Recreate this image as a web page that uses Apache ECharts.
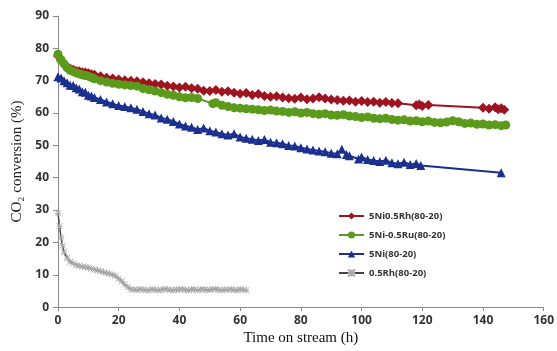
<!DOCTYPE html>
<html>
<head>
<meta charset="utf-8">
<script src="https://cdn.jsdelivr.net/npm/echarts@6/dist/echarts.min.js"></script>
<style>
  html, body { margin: 0; padding: 0; background: #fff; }
  #chart { width: 557px; height: 351px; }
</style>
</head>
<body>
<div id="chart"></div>
<script>
// series names
const seriesNames = ['5Ni0.5Rh(80-20)', '5Ni-0.5Ru(80-20)', '5Ni(80-20)', '0.5Rh(80-20)']

// 5Ni0.5Rh
const rhTime = [0, 1, 2, 3, 4, 5, 6, 7, 8, 9, 10, 11, 12, 14, 16, 18, 20, 22, 24, 26, 28, 30, 32, 34, 36, 38, 40, 42, 44, 46, 48, 50, 52, 54, 56, 58, 60, 62, 64, 66, 68, 70, 72, 74, 76, 78, 80, 82, 84, 86, 88, 90, 92, 94, 96, 98, 100, 102, 104, 106, 108, 110, 112, 118, 119, 120, 122, 140, 142, 144, 145, 146, 147]
const rhConv = [77.6, 76.2, 75.2, 74.3, 73.8, 73.4, 73.0, 72.9, 72.6, 72.5, 72.3, 72.0, 71.8, 71.4, 70.9, 70.7, 70.4, 70.1, 70.0, 69.8, 69.5, 69.2, 69.0, 68.8, 68.4, 68.2, 67.9, 68.1, 67.7, 67.5, 66.9, 66.8, 67.1, 66.6, 66.7, 66.3, 66.0, 66.2, 65.6, 65.9, 65.3, 65.0, 65.2, 64.8, 64.6, 64.4, 64.8, 64.3, 64.5, 64.9, 64.5, 64.2, 64.0, 63.8, 63.9, 63.5, 63.7, 63.4, 63.5, 63.2, 63.4, 63.1, 63.0, 62.4, 62.6, 62.2, 62.5, 61.6, 61.3, 61.8, 61.2, 61.5, 61.0]

// 5Ni-0.5Ru
const ruTime = [0, 1, 2, 3, 4, 5, 6, 7, 8, 9, 10, 11, 12, 14, 16, 18, 20, 22, 24, 26, 28, 30, 32, 34, 36, 38, 40, 42, 44, 46, 51, 52, 54, 56, 58, 60, 62, 64, 66, 68, 70, 72, 74, 76, 78, 80, 82, 84, 86, 88, 90, 92, 94, 96, 98, 100, 102, 104, 106, 108, 110, 112, 114, 116, 118, 120, 122, 124, 126, 128, 130, 132, 134, 136, 138, 140, 142, 144, 146, 147.5]
const ruConv = [78.2, 76.5, 75.2, 74.0, 73.2, 72.8, 72.4, 72.1, 71.8, 71.6, 71.4, 71.0, 70.6, 70.0, 69.6, 69.2, 68.9, 68.7, 68.5, 68.3, 67.6, 67.2, 66.8, 66.3, 65.8, 65.5, 65.0, 64.7, 64.8, 64.5, 62.9, 63.2, 62.4, 62.0, 61.6, 61.5, 61.3, 61.2, 61.0, 60.8, 60.9, 60.6, 60.5, 60.2, 60.4, 60.0, 60.2, 59.8, 59.6, 59.8, 59.4, 59.3, 59.5, 59.1, 58.9, 58.6, 58.8, 58.4, 58.2, 58.4, 58.0, 57.8, 57.9, 57.5, 57.6, 57.3, 57.5, 57.1, 57.0, 57.2, 57.6, 57.3, 56.8, 56.9, 56.5, 56.6, 56.3, 56.4, 56.1, 56.3]

// 5Ni
const niTime = [0, 1, 2, 3, 4, 5, 6, 7, 8, 9, 10, 11, 12, 14, 16, 18, 20, 22, 24, 26, 28, 30, 32, 34, 36, 38, 40, 42, 44, 46, 48, 50, 52, 54, 56, 58, 60, 62, 64, 66, 68, 70, 72, 74, 76, 78, 80, 82, 84, 86, 88, 90, 92, 93.5, 95, 96, 99, 100, 102, 104, 106, 108, 110, 112, 114, 116, 118, 119.5, 146]
const niConv = [71.2, 70.8, 70.0, 69.4, 68.6, 68.5, 67.8, 67.4, 66.6, 66.4, 65.5, 65.3, 64.8, 64.2, 63.4, 62.9, 62.3, 62.0, 61.6, 61.2, 60.5, 59.8, 59.4, 58.5, 58.1, 57.4, 56.6, 56.0, 55.6, 54.9, 55.4, 54.5, 54.1, 53.6, 53.2, 53.6, 52.6, 52.2, 51.9, 51.5, 51.8, 51.0, 50.8, 50.5, 50.0, 49.8, 49.3, 48.9, 48.6, 48.3, 48.0, 47.6, 47.4, 48.8, 47.2, 46.8, 45.8, 46.4, 45.6, 45.3, 45.0, 45.4, 44.6, 44.3, 44.8, 44.1, 44.4, 43.8, 41.5]

// 0.5Rh
const rh05Time = [0, 0.5, 1, 1.5, 2, 3, 4, 5, 6, 7, 8, 9, 10, 11, 12, 13, 14, 15, 16, 17, 18, 19, 20, 21, 22, 23, 24, 25, 26, 27, 28, 29, 30, 31, 32, 33, 34, 35, 36, 37, 38, 39, 40, 41, 42, 43, 44, 45, 46, 47, 48, 49, 50, 51, 52, 53, 54, 55, 56, 57, 58, 59, 60, 61, 62]
const rh05Conv = [29, 25, 21.5, 19, 17, 15.2, 14, 13.5, 13, 12.8, 12.5, 12.4, 12.2, 11.9, 11.6, 11.4, 11.1, 10.8, 10.5, 10.3, 10, 9.6, 8.8, 8.0, 7.0, 6.2, 5.5, 5.4, 5.3, 5.5, 5.4, 5.2, 5.2, 5.5, 5.4, 5.2, 5.3, 5.6, 5.5, 5.3, 5.2, 5.4, 5.4, 5.6, 5.3, 5.2, 5.5, 5.4, 5.2, 5.5, 5.4, 5.3, 5.3, 5.6, 5.5, 5.3, 5.2, 5.4, 5.4, 5.5, 5.3, 5.2, 5.5, 5.4, 5.2]

const xTicks = { min: 0, max: 160, interval: 20 }
const yTicks = { min: 0, max: 90, interval: 10 }

const zip = (t, v) => t.map((x, i) => [x, v[i]])

const chart = echarts.init(document.getElementById('chart'))

const axisLabelStyle = {
  color: '#333',
  fontSize: 12,
  fontWeight: 'bold',
  fontFamily: 'Open Sans'
}

const option = {
  animation: false,
  backgroundColor: '#fff',
  grid: { left: 58, right: 9, top: 16, bottom: 38 },
  legend: {
    orient: 'vertical',
    left: 333,
    top: 206,
    itemGap: 9,
    itemWidth: 25,
    itemHeight: 9,
    textStyle: { fontSize: 9.5, fontWeight: 'bold', color: '#333', fontFamily: 'Open Sans' },
    data: seriesNames
  },
  xAxis: {
    type: 'value',
    min: xTicks.min,
    max: xTicks.max,
    interval: xTicks.interval,
    name: 'Time on stream (h)',
    nameLocation: 'middle',
    nameGap: 21,
    nameTextStyle: { fontFamily: 'Liberation Serif', fontSize: 15, color: '#111' },
    axisLine: { lineStyle: { color: '#8a8a8a' } },
    axisTick: { show: true, length: 4, lineStyle: { color: '#8a8a8a' } },
    axisLabel: Object.assign({ margin: 7 }, axisLabelStyle),
    splitLine: { show: false }
  },
  yAxis: {
    type: 'value',
    min: yTicks.min,
    max: yTicks.max,
    interval: yTicks.interval,
    name: 'CO₂ conversion (%)',
    nameLocation: 'middle',
    nameGap: 33,
    nameTextStyle: { fontFamily: 'Liberation Serif', fontSize: 15, color: '#222' },
    axisLine: { show: true, lineStyle: { color: '#8a8a8a' } },
    axisTick: { show: true, length: 5, lineStyle: { color: '#8a8a8a' } },
    axisLabel: Object.assign({ margin: 9 }, axisLabelStyle),
    splitLine: { show: false }
  },
  series: [
    {
      name: seriesNames[0],
      type: 'line',
      data: zip(rhTime, rhConv),
      symbol: 'diamond',
      symbolSize: 10,
      color: '#9e1420',
      lineStyle: { width: 2, color: '#9e1420' },
      z: 3
    },
    {
      name: seriesNames[1],
      type: 'line',
      data: zip(ruTime, ruConv),
      symbol: 'circle',
      symbolSize: 9,
      color: '#5c9a1c',
      lineStyle: { width: 2, color: '#5c9a1c' },
      z: 4
    },
    {
      name: seriesNames[2],
      type: 'line',
      data: zip(niTime, niConv),
      symbol: 'triangle',
      symbolSize: 9,
      color: '#1a2f8e',
      lineStyle: { width: 2, color: '#1a2f8e' },
      z: 3
    },
    {
      name: seriesNames[3],
      type: 'line',
      data: zip(rh05Time, rh05Conv),
      symbol: 'path://M0 0 L10 10 M10 0 L0 10 M5 0 L5 10 M0 5 L10 5',
      symbolSize: 6,
      color: '#666',
      itemStyle: { color: 'transparent', borderColor: '#aaa', borderWidth: 1 },
      lineStyle: { width: 1.5, color: '#444' },
      z: 3
    }
  ]
}

chart.setOption(option)
</script>
</body>
</html>
